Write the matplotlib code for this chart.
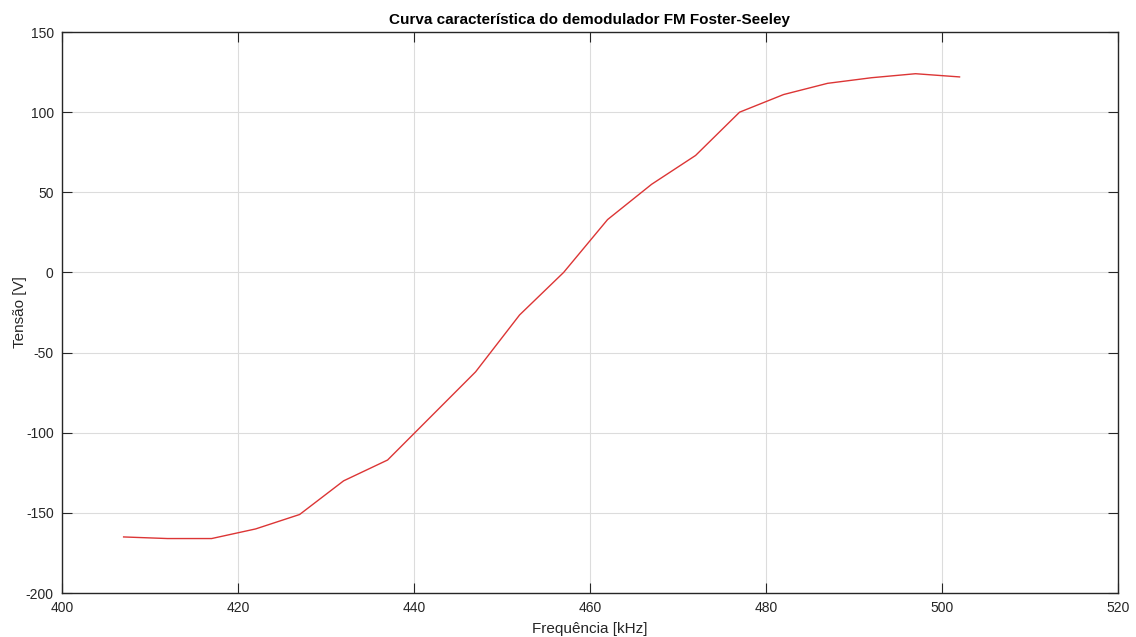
import matplotlib
matplotlib.use("Agg")
import matplotlib.pyplot as plt

# data
freq_khz = [407, 412, 417, 422, 427, 432, 437, 447, 452, 457, 462, 467,
            472, 477, 482, 487, 492, 497, 502]
tensao_v = [-165, -166, -166, -160, -151, -130, -117, -62, -26.5, 0, 33, 55,
            73, 100, 111, 118, 121.5, 124, 122]

x_ticks = [400, 420, 440, 460, 480, 500, 520]
y_ticks = [-200, -150, -100, -50, 0, 50, 100, 150]

plt.rcParams.update({
    "font.family": ["Liberation Sans", "DejaVu Sans"],
    "font.size": 10,
    "axes.unicode_minus": False,
})

TXT = "#262626"

fig = plt.figure(figsize=(11.36, 6.37), dpi=100)
ax = fig.add_axes([0.0546, 0.069, 0.9295, 0.8807])

ax.plot(freq_khz, tensao_v, color="#dc3535", linewidth=1.0)

ax.set_xlim(400, 520)
ax.set_ylim(-200, 150)
ax.set_xticks(x_ticks)
ax.set_yticks(y_ticks)

ax.grid(True, color="#dcdcdc", linewidth=0.8)
ax.set_axisbelow(True)
ax.tick_params(direction="in", top=True, right=True, length=7,
               colors=TXT, labelsize=10, pad=6)
for s in ax.spines.values():
    s.set_color(TXT)
    s.set_linewidth(1.0)

ax.set_xlabel("Frequência [kHz]", fontsize=11, color=TXT)
ax.set_ylabel("Tensão [V]", fontsize=11, color=TXT)
ax.xaxis.set_label_coords(0.5, -0.052)
ax.yaxis.set_label_coords(-0.033, 0.5)
ax.set_title("Curva característica do demodulador FM Foster-Seeley",
             fontsize=11, fontweight="bold", color="black", pad=6)

fig.savefig("out.png", dpi=100)
